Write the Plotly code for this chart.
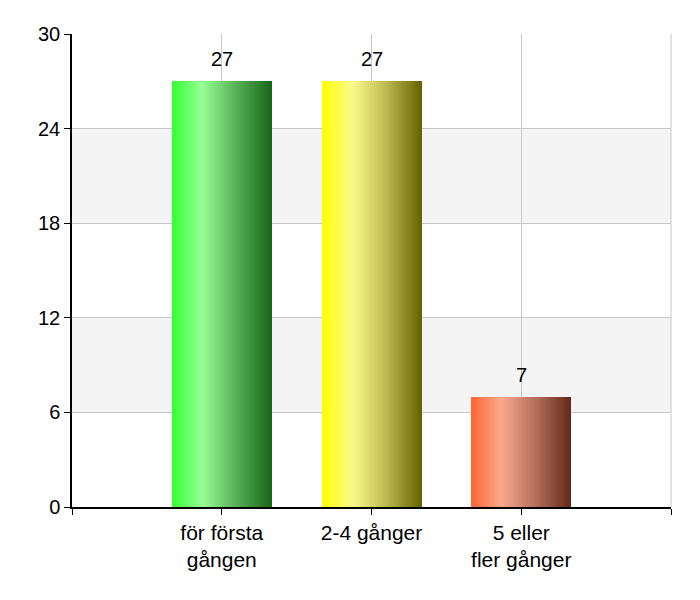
import plotly.graph_objects as go

categories = ["för första<br>gången", "2-4 gånger", "5 eller<br>fler gånger"]
values = [27, 27, 7]
y_ticks = [0, 6, 12, 18, 24, 30]

# horizontal gradient stops per bar: (fraction, rgb)
gradients = [
    [(0.0, (51, 255, 51)), (0.3, (150, 255, 150)), (0.65, (85, 175, 85)), (1.0, (25, 100, 25))],
    [(0.0, (255, 255, 0)), (0.3, (250, 250, 140)), (0.65, (190, 185, 80)), (1.0, (100, 100, 0))],
    [(0.0, (255, 100, 50)), (0.3, (250, 170, 140)), (0.65, (180, 110, 90)), (1.0, (100, 40, 25))],
]


def grad_color(stops, t):
    for (t0, c0), (t1, c1) in zip(stops[:-1], stops[1:]):
        if t <= t1:
            f = (t - t0) / (t1 - t0)
            return "rgb(%d,%d,%d)" % tuple(round(a + (b - a) * f) for a, b in zip(c0, c1))
    return "rgb(%d,%d,%d)" % stops[-1][1]


x_pos = list(range(len(categories)))
bar_w = 0.667
n_strips = 50
strip_w = bar_w / n_strips

fig = go.Figure()

for i in range(n_strips):
    t = (i + 0.5) / n_strips
    fig.add_trace(go.Bar(
        x=x_pos, y=values,
        width=strip_w * 1.15,
        offset=-bar_w / 2 + i * strip_w,
        marker=dict(color=[grad_color(g, t) for g in gradients], line=dict(width=0)),
        hoverinfo="skip", showlegend=False,
    ))

# value labels above bars
for x, v in zip(x_pos, values):
    fig.add_annotation(x=x, y=v, text=str(v), showarrow=False,
                       yanchor="bottom", yshift=9, font=dict(size=20, color="black"))

for y0 in (6, 18):
    fig.add_shape(type="rect", xref="paper", x0=0, x1=1, yref="y", y0=y0, y1=y0 + 6,
                  fillcolor="#f4f4f4", line_width=0, layer="below")

# right border
fig.add_shape(type="line", xref="paper", x0=1, x1=1, yref="paper", y0=0, y1=1,
              line=dict(color="#c8c8c8", width=1), layer="below")

fig.update_layout(
    width=700, height=600,
    margin=dict(l=64, r=37, t=26, b=101),
    paper_bgcolor="white", plot_bgcolor="white",
    barmode="overlay", bargap=0,
    font=dict(family="Liberation Sans, Arial, sans-serif", size=20, color="black"),
)

fig.update_xaxes(
    range=[-1, 3],
    tickvals=[-1] + x_pos + [3], ticktext=[""] + categories + [""],
    tickfont=dict(size=21),
    ticks="outside", ticklen=6, tickcolor="black",
    showgrid=True, gridcolor="#c8c8c8", gridwidth=1,
    showline=True, linecolor="black", linewidth=1.5,
    zeroline=False,
)
fig.update_yaxes(
    range=[0, 30], tickvals=y_ticks,
    ticks="outside", ticklen=6, tickcolor="black",
    showgrid=True, gridcolor="#c8c8c8", gridwidth=1,
    showline=True, linecolor="black", linewidth=1.5,
    zeroline=False,
)

fig.write_html("out.html")
